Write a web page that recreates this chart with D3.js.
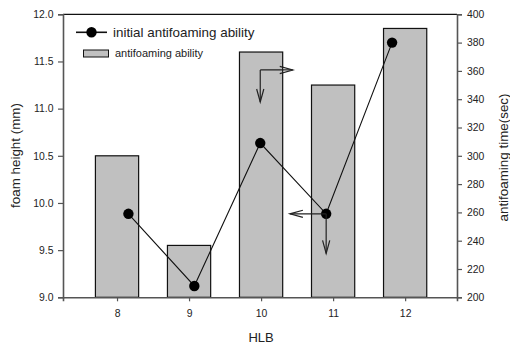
<!DOCTYPE html>
<html>
<head>
<meta charset="utf-8">
<script src="https://cdn.jsdelivr.net/npm/d3@7"></script>
<style>
  html, body { margin: 0; padding: 0; background: #fff; }
  svg { display: block; font-family: "Liberation Sans", Arial, sans-serif; }
</style>
</head>
<body>
<svg id="chart" width="510" height="346"></svg>
<script>
// HLB values on the x axis
const hlb = [8, 9, 10, 11, 12];
// Bars: foam height (mm), left axis
const foamHeight = [10.5, 9.55, 11.6, 11.25, 11.85];
// Line with dots: antifoaming time (sec), right axis
const antifoamTime = [259, 208, 309, 259, 380];
// Axis ticks
const leftTicks = [9.0, 9.5, 10.0, 10.5, 11.0, 11.5, 12.0];
const rightTicks = [200, 220, 240, 260, 280, 300, 320, 340, 360, 380, 400];
// Legend entries
const legendLine = "initial antifoaming ability";
const legendBar = "antifoaming ability";

const svg = d3.select("#chart");
const L = 63, R = 457, T = 14.3, B = 297.3;

const xBar = d3.scaleLinear().domain([7.25, 12.72]).range([L, R]);
const xLine = d3.scaleLinear().domain([7, 13]).range([62.5, 458]);
const yLeft = d3.scaleLinear().domain([9, 12]).range([B, T]);
const yRight = d3.scaleLinear().domain([200, 400]).range([B, T]);

const axisColor = "#555";
const textColor = "#222";
const fontFamily = "'Liberation Sans', Arial, sans-serif";

// bars
svg.append("g").selectAll("rect")
  .data(hlb.map((h, i) => ({ h, v: foamHeight[i] })))
  .join("rect")
  .attr("x", d => xBar(d.h - 0.3))
  .attr("width", d => xBar(d.h + 0.3) - xBar(d.h - 0.3))
  .attr("y", d => yLeft(d.v))
  .attr("height", d => yLeft(9) - yLeft(d.v))
  .attr("fill", "#c0c0c0")
  .attr("stroke", "#111")
  .attr("stroke-width", 1.2);

// top frame
svg.append("line")
  .attr("x1", L).attr("x2", R).attr("y1", T).attr("y2", T)
  .attr("stroke", "#111").attr("stroke-width", 1.2);

function styleAxis(g) {
  g.selectAll(".domain").attr("stroke", axisColor).attr("stroke-width", 1.6);
  g.selectAll(".tick line").attr("stroke", axisColor).attr("stroke-width", 1.2);
  g.selectAll("text").attr("fill", textColor).style("font-size", "10.4px")
    .style("font-family", fontFamily);
}

// left axis
svg.append("g")
  .attr("transform", `translate(${L},0)`)
  .call(d3.axisLeft(yLeft).tickValues(leftTicks).tickFormat(d3.format(".1f"))
    .tickSizeOuter(0).tickSize(5).tickPadding(4.5))
  .call(styleAxis);

// right axis
svg.append("g")
  .attr("transform", `translate(${R},0)`)
  .call(d3.axisRight(yRight).tickValues(rightTicks).tickFormat(d3.format("d"))
    .tickSizeOuter(0).tickSize(5).tickPadding(5))
  .call(styleAxis);

// bottom axis
svg.append("g")
  .attr("transform", `translate(0,${B})`)
  .call(d3.axisBottom(xBar).tickValues(hlb).tickFormat(d3.format("d"))
    .tickSizeOuter(0).tickSize(4).tickPadding(8))
  .call(styleAxis);

// line and dots
const pts = hlb.map((h, i) => [xLine(h), yRight(antifoamTime[i])]);
svg.append("path")
  .attr("d", d3.line()(pts))
  .attr("fill", "none").attr("stroke", "#111").attr("stroke-width", 1.1);
svg.append("g").selectAll("circle")
  .data(pts).join("circle")
  .attr("cx", d => d[0]).attr("cy", d => d[1]).attr("r", 5.2)
  .attr("fill", "#000");

// arrows
function arrow(x1, y1, x2, y2) {
  const g = svg.append("g").attr("stroke", "#222").attr("stroke-width", 1.2).attr("fill", "none");
  g.append("line").attr("x1", x1).attr("y1", y1).attr("x2", x2).attr("y2", y2);
  const a = Math.atan2(y2 - y1, x2 - x1), len = 13, half = 3.6;
  const bx = x2 - len * Math.cos(a), by = y2 - len * Math.sin(a);
  const px = -Math.sin(a) * half, py = Math.cos(a) * half;
  g.append("path").attr("d", `M${bx + px},${by + py}L${x2},${y2}L${bx - px},${by - py}`);
}
// from bar at HLB 10 toward the right axis and downward
const ax10 = xLine(10), ay10 = yLeft(11.41);
arrow(ax10, ay10, xBar(10.44), ay10);
arrow(ax10, ay10, ax10, yLeft(11.07));
// from dot at HLB 11 toward the left and downward
const ax11 = xLine(11), ay11 = yRight(antifoamTime[3]);
arrow(ax11, ay11, xBar(10.4), ay11);
arrow(ax11, ay11, ax11, yRight(231));

// axis titles
svg.append("text")
  .attr("transform", `translate(20,155.5) rotate(-90)`)
  .attr("text-anchor", "middle").attr("fill", textColor)
  .style("font-size", "13.4px").text("foam height (mm)");
svg.append("text")
  .attr("transform", `translate(507.5,157.5) rotate(-90)`)
  .attr("text-anchor", "middle").attr("fill", textColor)
  .style("font-size", "13.4px").text("antifoaming time(sec)");
svg.append("text")
  .attr("x", xBar(10)).attr("y", 341.5)
  .attr("text-anchor", "middle").attr("fill", textColor)
  .style("font-size", "13px").text("HLB");

// legend
const lg = svg.append("g");
lg.append("line").attr("x1", 76).attr("x2", 107).attr("y1", 32.3).attr("y2", 32.3)
  .attr("stroke", "#111").attr("stroke-width", 1.6);
lg.append("circle").attr("cx", 91.5).attr("cy", 32.3).attr("r", 5.2).attr("fill", "#000");
lg.append("text").attr("x", 113).attr("y", 37).attr("fill", textColor)
  .style("font-size", "13.4px").text(legendLine);
lg.append("rect").attr("x", 83.5).attr("y", 50).attr("width", 25).attr("height", 7)
  .attr("fill", "#c0c0c0").attr("stroke", "#111").attr("stroke-width", 1);
lg.append("text").attr("x", 115).attr("y", 57).attr("fill", textColor)
  .style("font-size", "11px").text(legendBar);
</script>
</body>
</html>
